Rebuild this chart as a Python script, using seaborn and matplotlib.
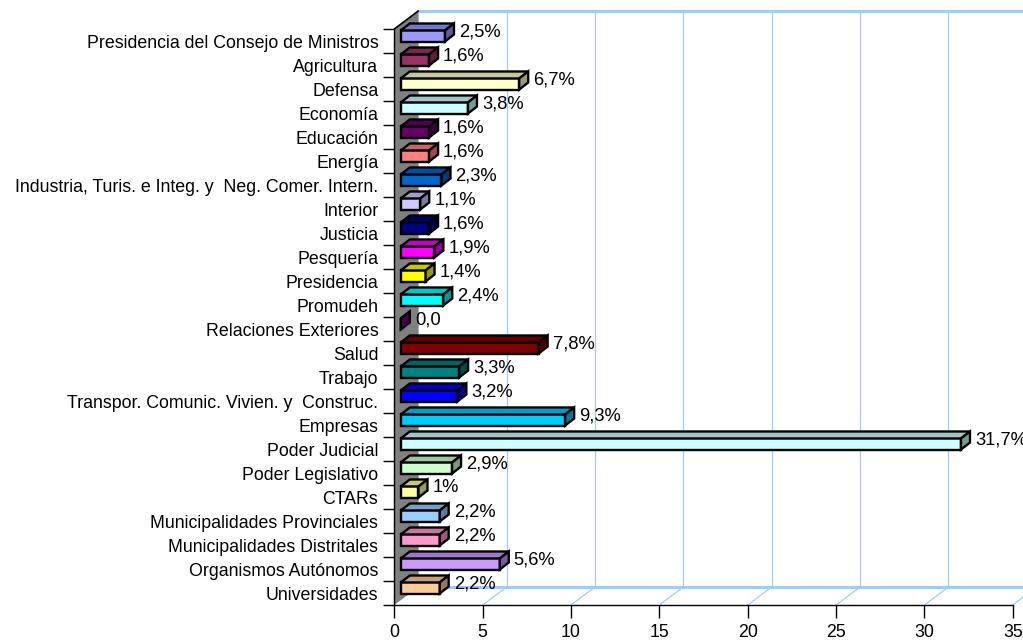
import matplotlib
matplotlib.use("Agg")
import matplotlib.pyplot as plt
from matplotlib.patches import Polygon
from matplotlib.lines import Line2D
from matplotlib.transforms import ScaledTranslation, IdentityTransform
import matplotlib.colors as mcolors
import numpy as np
import pandas as pd
import seaborn as sns

# ---- data -------------------------------------------------------------
sectores = [
    "Presidencia del Consejo de Ministros", "Agricultura", "Defensa", "Economía",
    "Educación", "Energía", "Industria, Turis. e Integ. y  Neg. Comer. Intern.",
    "Interior", "Justicia", "Pesquería", "Presidencia", "Promudeh",
    "Relaciones Exteriores", "Salud", "Trabajo",
    "Transpor. Comunic. Vivien. y  Construc.", "Empresas", "Poder Judicial",
    "Poder Legislativo", "CTARs", "Municipalidades Provinciales",
    "Municipalidades Distritales", "Organismos Autónomos", "Universidades",
]
porcentajes = [2.5, 1.6, 6.7, 3.8, 1.6, 1.6, 2.3, 1.1, 1.6, 1.9, 1.4, 2.4,
               0.0, 7.8, 3.3, 3.2, 9.3, 31.7, 2.9, 1.0, 2.2, 2.2, 5.6, 2.2]
etiquetas = ["2,5%", "1,6%", "6,7%", "3,8%", "1,6%", "1,6%", "2,3%", "1,1%",
             "1,6%", "1,9%", "1,4%", "2,4%", "0,0", "7,8%", "3,3%", "3,2%",
             "9,3%", "31,7%", "2,9%", "1%", "2,2%", "2,2%", "5,6%", "2,2%"]
colores = ["#9999FF", "#993366", "#FFFFCC", "#CCFFFF", "#660066", "#FF8080",
           "#0066CC", "#CCCCFF", "#000080", "#FF00FF", "#FFFF00", "#00FFFF",
           "#800080", "#800000", "#008080", "#0000FF", "#00CCFF", "#CCFFFF",
           "#CCFFCC", "#FFFF99", "#99CCFF", "#FF99CC", "#CC99FF", "#FFCC99"]
x_ticks = [0, 5, 10, 15, 20, 25, 30, 35]

df = pd.DataFrame({"sector": sectores, "pct": porcentajes})

# ---- figure -----------------------------------------------------------
sns.set_theme(style="white")
plt.rcParams["font.family"] = ["Liberation Sans", "DejaVu Sans"]
plt.rcParams.update({"text.color": "black", "xtick.color": "black",
                     "ytick.color": "black", "axes.labelcolor": "black"})
DPI = 100
fig = plt.figure(figsize=(10.23, 6.42), dpi=DPI)
W, H = 1023, 642
ax = fig.add_axes([394.3 / W, (H - 605) / H, 618.5 / W, 576 / H])
ax.patch.set_visible(False)

GRID = "#9FCBFF"
FS = 12.8          # axis labels
FS_VAL = 13.2      # value labels
depth = (24, 18)       # wall depth in pixels (right, up)
bar_off = (6.5, 5)     # front face of the bars within the depth
bar_depth = (9, 7)     # thickness of the bars in depth
EDGE_LW = 1.7

sns.barplot(data=df, x="pct", y="sector", hue="sector", palette=colores,
            legend=False, orient="h", width=0.46, edgecolor="black",
            linewidth=EDGE_LW, saturation=1, ax=ax, zorder=3)

ax.set_xlim(0, 35)
ax.set_ylim(len(sectores) - 0.5, -0.5)
fig.canvas.draw()


def shifted(dx, dy):
    return ax.transData + ScaledTranslation(dx / DPI, dy / DPI, fig.dpi_scale_trans)


def to_px(x, y, dx=0, dy=0):
    px, py = ax.transData.transform((x, y))
    return (px + dx, py + dy)


ytop, ybot = -0.5, len(sectores) - 0.5
ident = IdentityTransform()

# left wall (grey) with its outline
wall = Polygon([to_px(0, ytop), to_px(0, ybot), to_px(0, ybot, *depth),
                to_px(0, ytop, *depth)], closed=True, facecolor="#808080",
               edgecolor="none", transform=ident, zorder=1, clip_on=False)
ax.add_patch(wall)
ax.add_line(Line2D(*zip(to_px(0, ytop), to_px(0, ytop, *depth)),
                   color="black", lw=1.2, transform=ident, zorder=1.1,
                   clip_on=False))

# back wall and floor lines
back = shifted(*depth)
ax.plot([0, 40], [ytop, ytop], color=GRID, lw=2.2, transform=back,
        clip_on=False, zorder=0.5)
ax.plot([0, 40], [ybot, ybot], color=GRID, lw=2.2, transform=back,
        clip_on=False, zorder=0.5)
ax.plot([0, 0], [ytop, ybot], color=GRID, lw=1.5, transform=back,
        clip_on=False, zorder=0.5)
for t in x_ticks[1:]:
    ax.plot([t, t], [ytop, ybot], color=GRID, lw=0.9, transform=back,
            clip_on=False, zorder=0.5)
for t in x_ticks[1:]:
    ax.add_line(Line2D(*zip(to_px(t, ybot), to_px(t, ybot, *depth)),
                       color=GRID, lw=0.9, transform=ident, zorder=0.6,
                       clip_on=False))


def shade(c, f):
    r, g, b = mcolors.to_rgb(c)
    return (r * f, g * f, b * f)


# 3D bars: shift the front faces and add top and side faces
front = shifted(*bar_off)
bdx, bdy = bar_depth
for patch, col, lab in zip([p for p in ax.patches if p is not wall],
                           colores, etiquetas):
    patch.set_transform(front)
    patch.set_clip_on(False)
    x0 = patch.get_x()
    x1 = x0 + patch.get_width()
    y_up = patch.get_y()                      # upper edge (inverted axis)
    y_lo = patch.get_y() + patch.get_height()
    ftl = to_px(x0, y_up, *bar_off)
    ftr = to_px(x1, y_up, *bar_off)
    fbr = to_px(x1, y_lo, *bar_off)
    top = Polygon([ftl, ftr, (ftr[0] + bdx, ftr[1] + bdy),
                   (ftl[0] + bdx, ftl[1] + bdy)], closed=True,
                  facecolor=shade(col, 0.78), edgecolor="black", lw=EDGE_LW,
                  transform=ident, zorder=3, clip_on=False)
    side = Polygon([ftr, fbr, (fbr[0] + bdx, fbr[1] + bdy),
                    (ftr[0] + bdx, ftr[1] + bdy)], closed=True,
                   facecolor=shade(col, 0.6), edgecolor="black", lw=EDGE_LW,
                   transform=ident, zorder=3, clip_on=False)
    ax.add_patch(top)
    ax.add_patch(side)
    ax.annotate(lab, xy=(x1, (y_up + y_lo) / 2), xycoords=front,
                xytext=(14, 4), textcoords="offset pixels",
                ha="left", va="center", fontsize=FS_VAL, color="black",
                annotation_clip=False, zorder=4)

# axes, ticks and labels
for s in ["top", "right"]:
    ax.spines[s].set_visible(False)
for s in ["left", "bottom"]:
    ax.spines[s].set_color("black")
    ax.spines[s].set_linewidth(1.0)
    ax.spines[s].set_zorder(2)

ax.set_xticks(x_ticks)
ax.set_xticklabels([str(t) for t in x_ticks], fontsize=FS)
ax.tick_params(axis="x", direction="out", length=9, width=1.0, color="black",
               pad=5, bottom=True)
ax.set_yticks(range(len(sectores)))
ax.set_yticklabels(sectores, fontsize=FS)
ax.tick_params(axis="y", which="major", length=0, pad=11.5)
ax.set_yticks(np.arange(-0.5, len(sectores), 1.0), minor=True)
ax.tick_params(axis="y", which="minor", direction="out", length=8, width=1.0,
               color="black", left=True)
ax.set_xlabel("")
ax.set_ylabel("")
ax.grid(False)

fig.savefig("out.png", dpi=DPI)
